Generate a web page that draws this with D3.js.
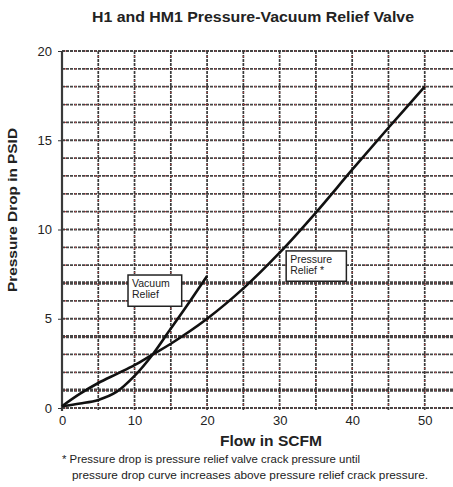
<!DOCTYPE html>
<html>
<head>
<meta charset="utf-8">
<script src="https://cdn.jsdelivr.net/npm/d3@7"></script>
<style>
  body { margin: 0; background: #fff; }
  text { font-family: "Liberation Sans", Arial, sans-serif; fill: #222; }
</style>
</head>
<body>
<script>
// values
const pressureFlow = [0, 2.5, 5, 7.5, 10, 12.5, 15, 20, 25, 30, 35, 40, 45, 50];
const pressureDrop = [0.1, 0.8, 1.4, 1.9, 2.4, 3.0, 3.6, 5.0, 6.7, 8.7, 10.95, 13.35, 15.7, 18.0];
const vacuumFlow = [0, 2.5, 5, 7.5, 10, 12.5, 15, 17.5, 20];
const vacuumDrop = [0.1, 0.25, 0.45, 0.9, 1.8, 3.0, 4.45, 5.9, 7.4];
const xTicks = [0, 10, 20, 30, 40, 50];
const yTicks = [0, 5, 10, 15, 20];
const heavyRows = [1, 4, 7];
const titleText = "H1 and HM1 Pressure-Vacuum Relief Valve";
const xLabel = "Flow in SCFM";
const yLabel = "Pressure Drop in PSID";
const notes = ["* Pressure drop is pressure relief valve crack pressure until",
               "pressure drop curve increases above pressure relief crack pressure."];
// annotation boxes: [x0, x1, yTop, yBottom] in data units
const vacuumBox = [9.1, 16.5, 7.45, 5.7];
const vacuumText = ["Vacuum", "Relief"];
const pressureBox = [30.9, 39.2, 8.8, 7.1];
const pressureText = ["Pressure", "Relief *"];

const width = 453, height = 487;
const x = d3.scaleLinear().domain([0, 55]).range([62, 461]);
const y = d3.scaleLinear().domain([0, 20]).range([408, 51]);

const svg = d3.select("body").append("svg")
  .attr("width", width)
  .attr("height", height);

svg.append("text")
  .attr("x", 253).attr("y", 22)
  .attr("text-anchor", "middle")
  .attr("font-size", 14).attr("font-weight", "bold")
  .attr("textLength", 322).attr("lengthAdjust", "spacingAndGlyphs")
  .text(titleText);

const grid = svg.append("g").attr("class", "grid");

// horizontal rules, every 1 psid
const rows = d3.range(0, 21);
grid.selectAll("line.hrow")
  .data(rows)
  .enter().append("line")
  .attr("class", "hrow")
  .attr("x1", x(0)).attr("x2", width)
  .attr("y1", d => y(d)).attr("y2", d => y(d))
  .attr("stroke", "#454545")
  .attr("stroke-width", d => heavyRows.includes(d) ? 3.4 : 1.8)
  .attr("stroke-dasharray", "3,1");
grid.selectAll("line.hred")
  .data(rows)
  .enter().append("line")
  .attr("class", "hred")
  .attr("x1", x(0) + 3).attr("x2", width)
  .attr("y1", d => y(d)).attr("y2", d => y(d))
  .attr("stroke", "#d04040")
  .attr("stroke-width", 1.2)
  .attr("stroke-dasharray", "1,9");

// vertical rules, every 5 scfm
const cols = d3.range(0, 60, 5);
grid.selectAll("line.vcol")
  .data(cols)
  .enter().append("line")
  .attr("class", "vcol")
  .attr("x1", d => x(d)).attr("x2", d => x(d))
  .attr("y1", y(20)).attr("y2", y(0) + 3)
  .attr("stroke", "#3a3a3a")
  .attr("stroke-width", d => d === 0 ? 2.2 : 1.7)
  .attr("stroke-dasharray", d => d === 0 ? null : "3,1");
grid.selectAll("line.vred")
  .data(cols.filter(d => d > 0))
  .enter().append("line")
  .attr("class", "vred")
  .attr("x1", d => x(d)).attr("x2", d => x(d))
  .attr("y1", y(20) + 5).attr("y2", y(0))
  .attr("stroke", "#d04040")
  .attr("stroke-width", 1)
  .attr("stroke-dasharray", "1,11");

// axes
const yAxis = d3.axisLeft(y).tickValues(yTicks).tickSize(4).tickPadding(6).tickFormat(d3.format("d"));
const xAxis = d3.axisBottom(x).tickValues(xTicks).tickSize(0).tickPadding(8).tickFormat(d3.format("d"));

const gy = svg.append("g").attr("transform", `translate(${x(0)},0)`).call(yAxis);
gy.select(".domain").remove();
gy.selectAll("line").attr("stroke", "#333");
gy.selectAll("text").attr("font-size", 13).attr("fill", "#444").attr("font-family", "Liberation Sans, Arial, sans-serif");

const gx = svg.append("g").attr("transform", `translate(0,${y(0)})`).call(xAxis);
gx.select(".domain").remove();
gx.selectAll("text").attr("font-size", 13).attr("fill", "#444").attr("font-family", "Liberation Sans, Arial, sans-serif");

svg.append("text")
  .attr("x", 271).attr("y", 446)
  .attr("text-anchor", "middle")
  .attr("font-size", 14).attr("font-weight", "bold")
  .attr("textLength", 102).attr("lengthAdjust", "spacingAndGlyphs")
  .text(xLabel);

svg.append("text")
  .attr("transform", "translate(17,210) rotate(-90)")
  .attr("text-anchor", "middle")
  .attr("font-size", 13).attr("font-weight", "bold")
  .attr("textLength", 164).attr("lengthAdjust", "spacingAndGlyphs")
  .text(yLabel);

// curves
const line = d3.line()
  .x(d => x(d[0]))
  .y(d => y(d[1]))
  .curve(d3.curveCatmullRom);

svg.append("path")
  .datum(d3.zip(pressureFlow, pressureDrop))
  .attr("fill", "none")
  .attr("stroke", "#111")
  .attr("stroke-width", 2.6)
  .attr("d", line);

svg.append("path")
  .datum(d3.zip(vacuumFlow, vacuumDrop))
  .attr("fill", "none")
  .attr("stroke", "#111")
  .attr("stroke-width", 2.6)
  .attr("d", line);

// label boxes
function labelBox(b, lines) {
  const g = svg.append("g");
  g.append("rect")
    .attr("x", x(b[0])).attr("y", y(b[2]))
    .attr("width", x(b[1]) - x(b[0]))
    .attr("height", y(b[3]) - y(b[2]))
    .attr("fill", "#fff")
    .attr("stroke", "#222")
    .attr("stroke-width", 1.5);
  g.selectAll("text")
    .data(lines)
    .enter().append("text")
    .attr("x", x(b[0]) + 4)
    .attr("y", (d, i) => y(b[2]) + 12 + i * 11)
    .attr("font-size", 10.5)
    .text(d => d);
}
labelBox(vacuumBox, vacuumText);
labelBox(pressureBox, pressureText);

// footnote
svg.selectAll("text.note")
  .data(notes)
  .enter().append("text")
  .attr("class", "note")
  .attr("x", (d, i) => i === 0 ? 62 : 72)
  .attr("y", (d, i) => 463 + i * 16)
  .attr("font-size", 10)
  .attr("textLength", (d, i) => i === 0 ? 298 : 356)
  .attr("lengthAdjust", "spacingAndGlyphs")
  .text(d => d);
</script>
</body>
</html>
